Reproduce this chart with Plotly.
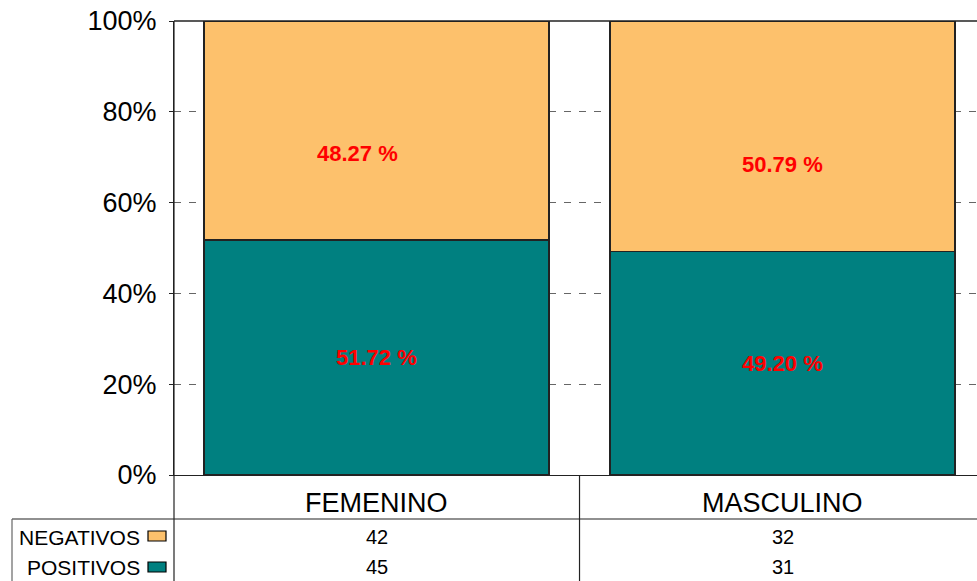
import plotly.graph_objects as go

categories = ["FEMENINO", "MASCULINO"]
series_names = ["NEGATIVOS", "POSITIVOS"]
neg_counts = [42, 32]
pos_counts = [45, 31]
pos_pct = [51.72, 49.20]
neg_pct = [48.27, 50.79]
pos_labels = ["51.72 %", "49.20 %"]
neg_labels = ["48.27 %", "50.79 %"]
y_ticks = [0, 20, 40, 60, 80, 100]
y_ticktext = ["0%", "20%", "40%", "60%", "80%", "100%"]

# styles
C_NEG = "#FDC16C"
C_POS = "#008080"
FONT = "Liberation Sans, Arial, sans-serif"
W, H = 977, 581
ML, MT, MB = 174, 21, 106
PH = H - MT - MB  # plot height px
PW = W - ML


def py(ypx):  # pixel y -> paper y
    return (H - MB - ypx) / PH


def px(xpx):  # pixel x -> paper x
    return (xpx - ML) / PW


neg_shift = [(-19, -23), (0, -28)]
LBL_FONT = dict(family=FONT, size=22, color="#FF0000", weight="bold")

fig = go.Figure()
fig.add_trace(go.Bar(x=list(range(len(categories))), y=pos_pct, name=series_names[1],
                     marker=dict(color=C_POS, line=dict(color="#222", width=1.5)),
                     width=0.85, hoverinfo="skip"))
fig.add_trace(go.Bar(x=list(range(len(categories))), y=neg_pct, name=series_names[0],
                     marker=dict(color=C_NEG, line=dict(color="#222", width=1.5)),
                     width=0.85, hoverinfo="skip"))

ann = []
for i in range(len(categories)):
    ann.append(dict(x=i, y=pos_pct[i] / 2, xref="x", yref="y", text=pos_labels[i],
                    xanchor="center", yanchor="middle", showarrow=False, font=LBL_FONT))
    ann.append(dict(x=i, y=pos_pct[i] + neg_pct[i] / 2, xref="x", yref="y", text=neg_labels[i],
                    xshift=neg_shift[i][0], yshift=neg_shift[i][1],
                    xanchor="center", yanchor="middle", showarrow=False, font=LBL_FONT))
    # category labels
    ann.append(dict(x=i, y=py(503), xref="x", yref="paper", text=categories[i], showarrow=False,
                    xanchor="center", yanchor="middle", font=dict(family=FONT, size=27, color="#000")))
    # table values
    ann.append(dict(x=i, y=py(537), xref="x", yref="paper", text=str(neg_counts[i]), showarrow=False,
                    xanchor="center", yanchor="middle", font=dict(family=FONT, size=20, color="#000")))
    ann.append(dict(x=i, y=py(567), xref="x", yref="paper", text=str(pos_counts[i]), showarrow=False,
                    xanchor="center", yanchor="middle", font=dict(family=FONT, size=20, color="#000")))

# legend labels in table
ann.append(dict(x=px(142), y=py(537), xref="paper", yref="paper", text=series_names[0], showarrow=False,
                xanchor="right", yanchor="middle", font=dict(family=FONT, size=21, color="#000")))
ann.append(dict(x=px(142), y=py(567), xref="paper", yref="paper", text=series_names[1], showarrow=False,
                xanchor="right", yanchor="middle", font=dict(family=FONT, size=21, color="#000")))

shapes = [
    # left axis extended into table
    dict(type="line", xref="paper", yref="paper", x0=0, x1=0, y0=py(H), y1=1,
         line=dict(color="#222", width=1.2)),
    # top frame
    dict(type="line", xref="paper", yref="paper", x0=0, x1=1, y0=1, y1=1,
         line=dict(color="#222", width=1.5)),
    # table horizontal line
    dict(type="line", xref="paper", yref="paper", x0=px(12), x1=1, y0=py(519), y1=py(519),
         line=dict(color="#222", width=1.2)),
    # table left border
    dict(type="line", xref="paper", yref="paper", x0=px(12), x1=px(12), y0=py(519), y1=py(H),
         line=dict(color="#666", width=1.2)),
    # separator between categories
    dict(type="line", xref="x", yref="paper", x0=0.5, x1=0.5, y0=0, y1=py(H),
         line=dict(color="#222", width=1.2)),
    # legend swatches
    dict(type="rect", xref="paper", yref="paper", x0=px(148), x1=px(166), y0=py(541), y1=py(531),
         fillcolor=C_NEG, line=dict(color="#000", width=1.2)),
    dict(type="rect", xref="paper", yref="paper", x0=px(148), x1=px(166), y0=py(572), y1=py(562),
         fillcolor=C_POS, line=dict(color="#000", width=1.2)),
]

fig.update_layout(
    width=W, height=H, barmode="stack", showlegend=False,
    margin=dict(l=ML, r=0, t=MT, b=MB, pad=0),
    paper_bgcolor="white", plot_bgcolor="white",
    font=dict(family=FONT, color="#000"),
    annotations=ann, shapes=shapes,
    xaxis=dict(range=[-0.4988, 1.4790], showticklabels=False, ticks="", showgrid=False,
               zeroline=False, showline=True, linecolor="#222", linewidth=1.2, fixedrange=True),
    yaxis=dict(range=[0, 100], tickvals=y_ticks, ticktext=y_ticktext, ticks="outside", ticklen=4,
               tickcolor="#222", showline=True, linecolor="#222", linewidth=1.2,
               showgrid=True, gridcolor="#666", griddash="7px,8px", gridwidth=1.2,
               zeroline=False, tickfont=dict(family=FONT, size=27, color="#000"),
               ticklabelstandoff=7, fixedrange=True),
)

fig.write_html("out.html", config={"displayModeBar": False},
               post_script="document.body.style.margin='0';document.body.style.overflow='hidden';")
